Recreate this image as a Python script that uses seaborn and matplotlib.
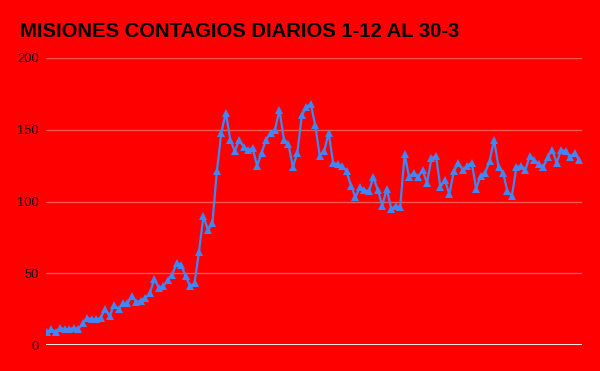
import matplotlib
matplotlib.use("Agg")
import matplotlib.pyplot as plt
import seaborn as sns
import pandas as pd
import numpy as np

title = "MISIONES CONTAGIOS DIARIOS 1-12 AL 30-3"
dates = pd.date_range("2020-12-01", "2021-03-30", freq="D")
cases = [9, 11, 9, 12, 11, 11, 12, 11, 15, 19, 18, 18, 19, 25, 20, 28, 25, 29, 29, 34,
         30, 31, 33, 36, 46, 40, 41, 45, 49, 57, 56, 48, 41, 43, 65, 90, 80, 85, 121, 148,
         162, 143, 135, 143, 138, 136, 137, 125, 134, 143, 148, 150, 164, 143, 140, 124, 134, 160, 166, 168,
         153, 132, 135, 148, 127, 126, 125, 121, 111, 103, 110, 108, 107, 117, 108, 97, 109, 95, 97, 96,
         133, 117, 120, 117, 122, 113, 130, 132, 110, 115, 105, 121, 127, 122, 125, 127, 109, 118, 120, 128,
         143, 124, 120, 107, 104, 124, 125, 122, 132, 129, 126, 124, 131, 136, 127, 136, 135, 131, 134, 129]
yticks = [0, 50, 100, 150, 200]

df = pd.DataFrame({"fecha": dates, "casos": cases})

sns.set_theme(style="white")
plt.rcParams["font.family"] = ["Liberation Sans", "DejaVu Sans"]

fig = plt.figure(figsize=(6, 3.71), dpi=100, facecolor="#ff0000")
ax = fig.add_axes([46/600, (371-345)/371, 536/600, 287/371])
ax.set_facecolor("#ff0000")

sns.lineplot(data=df, x="fecha", y="casos", ax=ax, color="#4285f4", linewidth=1.6,
             marker="^", markersize=5.5, markeredgewidth=0, zorder=3)

step = pd.Timedelta(days=1)
ax.set_xlim(dates[0] - 0.22*step, dates[-1] + 0.67*step)
ax.set_ylim(0, 200)
ax.set_yticks(yticks)
ax.set_yticklabels([str(v) for v in yticks], fontsize=9.3, color="#111111")
ax.set_xticks([])
ax.set_xlabel("")
ax.set_ylabel("")
ax.tick_params(axis="y", length=0, pad=5)
for s in ax.spines.values():
    s.set_visible(False)
for v in yticks[1:]:
    ax.axhline(v, color="white", alpha=0.35, linewidth=1, zorder=1)
ax.axhline(0, color="white", linewidth=1.3, zorder=2)

fig.text(20/600, 1 - 37/371, title, fontsize=14.6, fontweight="bold", color="black",
         ha="left", va="baseline")

fig.savefig("out.png", dpi=100, facecolor="#ff0000")
